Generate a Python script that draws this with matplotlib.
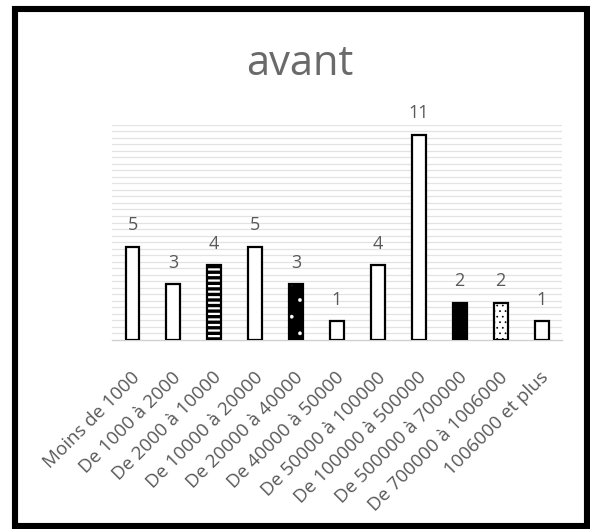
import matplotlib
matplotlib.use("Agg")
import matplotlib.pyplot as plt
import matplotlib.transforms as mtransforms
import numpy as np
from matplotlib.patches import Rectangle

categories = [
    "Moins de 1000", "De 1000 à 2000", "De 2000 à 10000", "De 10000 à 20000",
    "De 20000 à 40000", "De 40000 à 50000", "De 50000 à 100000",
    "De 100000 à 500000", "De 500000 à 700000", "De 700000 à 1006000",
    "1006000 et plus",
]
counts = [5, 3, 4, 5, 3, 1, 4, 11, 2, 2, 1]
title = "avant"

# fill style per bar: (face colour, hatch colour, hatch pattern, hatch line width)
fills = [
    ("white", None, None, 0), ("white", None, None, 0),
    ("black", "white", "---", 1.6),
    ("white", None, None, 0), ("black", "white", ".", 0.3),
    ("white", None, None, 0), ("white", None, None, 0),
    ("white", None, None, 0), ("black", None, None, 0),
    ("white", "black", "...", 0.5), ("white", None, None, 0),
]

plt.rcParams["font.family"] = ["Open Sans", "DejaVu Sans"]
GREY = "#595959"

W, H = 590, 529
fig = plt.figure(figsize=(W / 100, H / 100), dpi=100)
fig.patch.set_facecolor("white")

# outer black frame
fig.patches.append(Rectangle((15 / W, 1 - 525.5 / H), (587 - 15) / W, (525.5 - 8.5) / H,
                             transform=fig.transFigure, fill=False,
                             edgecolor="black", linewidth=4.4, zorder=10))

ax = fig.add_axes([112 / W, (H - 340) / H, 450 / W, 215 / H])
ax.set_xlim(-0.5, len(categories) - 0.5)
ax.set_ylim(0, 11.53)

for y in np.arange(0.35, 11.6, 0.35):
    ax.axhline(y, color="#e3e3e3", linewidth=0.9, zorder=0)

x = np.arange(len(categories))
bw = 0.34
for xi, v, (face, hcol, hatch, hlw) in zip(x, counts, fills):
    ax.bar(xi, v, width=bw, color=face, linewidth=0, zorder=2)
    if hatch:
        with plt.rc_context({"hatch.linewidth": hlw}):
            ax.bar(xi, v, width=bw, facecolor="none", edgecolor=hcol,
                   hatch=hatch, linewidth=0, zorder=3)
    ax.bar(xi, v, width=bw, facecolor="none", edgecolor="black",
           linewidth=1.6, zorder=4)
    ax.annotate(str(v), (xi, v), xytext=(0, 9), textcoords="offset points",
                ha="center", va="bottom", fontsize=13, color=GREY)

for s in ["top", "right", "left"]:
    ax.spines[s].set_visible(False)
ax.spines["bottom"].set_color("#d0d0d0")
ax.spines["bottom"].set_linewidth(1.0)
ax.set_yticks([])
ax.set_xticks(x)
ax.set_xticklabels(categories, rotation=45, ha="right", va="center",
                   rotation_mode="anchor", fontsize=13.5, color=GREY)
ax.tick_params(axis="x", length=0, pad=25)
shift = mtransforms.ScaledTranslation(4.5 / 100, 0, fig.dpi_scale_trans)
for lbl in ax.get_xticklabels():
    lbl.set_transform(lbl.get_transform() + shift)

fig.text(300 / W, 1 - 64 / H, title, ha="center", va="center",
         fontsize=30, color="#6a6a6a")

fig.savefig("out.png", dpi=100, facecolor="white")
